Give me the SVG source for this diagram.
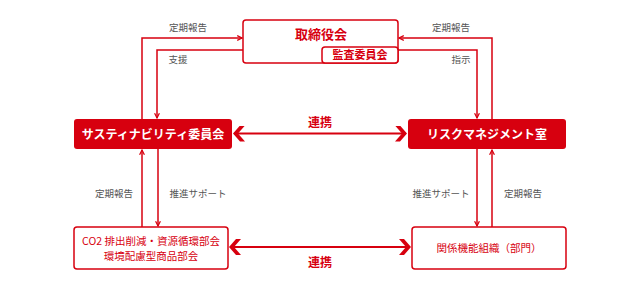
<svg xmlns="http://www.w3.org/2000/svg" width="640" height="291" viewBox="0 0 640 291">
<defs>
<style>
.ln{fill:none;stroke:#d7000f;stroke-width:1.5}
.big{fill:none;stroke:#d7000f;stroke-width:2.2}
.box{fill:#fff;stroke:#d7000f;stroke-width:1.5}
.fbox{fill:#d7000f;stroke:none}
.lab{font-family:"Noto Sans CJK JP","Noto Sans",sans-serif;font-size:9.5px;fill:#555}
.rt{font-family:"Noto Sans CJK JP","Noto Sans",sans-serif;fill:#d7000f;font-weight:bold}
.wt{font-family:"Noto Sans CJK JP","Noto Sans",sans-serif;fill:#fff;font-weight:bold;font-size:12px}
.rn{font-family:"Noto Sans CJK JP","Noto Sans",sans-serif;fill:#d7000f;font-size:10.5px}
</style>
<marker id="a" viewBox="0 0 10 10" refX="9" refY="5" markerWidth="6" markerHeight="6" markerUnits="userSpaceOnUse" orient="auto">
<path d="M1,1 L9,5 L1,9" fill="none" stroke="#d7000f" stroke-width="2"/>
</marker>
<marker id="b" viewBox="0 0 12 16" refX="11" refY="8" markerWidth="12" markerHeight="16" markerUnits="userSpaceOnUse" orient="auto-start-reverse">
<path d="M0,0 L5,0 L12,8 L5,16 L0,16 L7,8 Z" fill="#d7000f"/>
</marker>
</defs>
<g id="connectors">
<polyline class="ln" points="142,119 142,38 242,38" marker-end="url(#a)"/>
<polyline class="ln" points="243,50 157,50 157,118" marker-end="url(#a)"/>
<polyline class="ln" points="492,119 492,38 399,38" marker-end="url(#a)"/>
<polyline class="ln" points="398,50 477,50 477,118" marker-end="url(#a)"/>
<line class="ln" x1="142" y1="227" x2="142" y2="150" marker-end="url(#a)"/>
<line class="ln" x1="158" y1="149" x2="158" y2="226" marker-end="url(#a)"/>
<line class="ln" x1="477" y1="149" x2="477" y2="226" marker-end="url(#a)"/>
<line class="ln" x1="492" y1="227" x2="492" y2="150" marker-end="url(#a)"/>
<line class="big" x1="234" y1="133.5" x2="406" y2="133.5" marker-start="url(#b)" marker-end="url(#b)"/>
<line class="big" x1="230" y1="247" x2="410" y2="247" marker-start="url(#b)" marker-end="url(#b)"/>
<text class="lab" x="188" y="31" text-anchor="middle">定期報告</text>
<text class="lab" x="178" y="63" text-anchor="middle">支援</text>
<text class="lab" x="451" y="31" text-anchor="middle">定期報告</text>
<text class="lab" x="461" y="63" text-anchor="middle">指示</text>
<text class="rt" x="320" y="127" text-anchor="middle" font-size="12">連携</text>
<text class="rt" x="320" y="267" text-anchor="middle" font-size="12">連携</text>
<text class="lab" x="114" y="197" text-anchor="middle">定期報告</text>
<text class="lab" x="198" y="197" text-anchor="middle">推進サポート</text>
<text class="lab" x="441" y="197" text-anchor="middle">推進サポート</text>
<text class="lab" x="523" y="197" text-anchor="middle">定期報告</text>
</g>
<g id="board">
<rect class="box" x="243" y="20" width="155" height="43" rx="3"/>
<text class="rt" x="321" y="39" text-anchor="middle" font-size="13">取締役会</text>
</g>
<g id="audit">
<rect class="box" x="322" y="47" width="76" height="16" rx="3"/>
<text class="rt" x="360" y="59" text-anchor="middle" font-size="11">監査委員会</text>
</g>
<g id="sustainability">
<rect class="fbox" x="74" y="119" width="158" height="30" rx="3"/>
<text class="wt" x="153" y="138.5" text-anchor="middle">サスティナビリティ委員会</text>
</g>
<g id="risk">
<rect class="fbox" x="408" y="119" width="158" height="30" rx="3"/>
<text class="wt" x="487" y="138.5" text-anchor="middle">リスクマネジメント室</text>
</g>
<g id="subcommittee">
<rect class="box" x="74" y="227" width="154" height="42" rx="3"/>
<text class="rn" x="151" y="245" text-anchor="middle">CO2 排出削減・資源循環部会</text>
<text class="rn" x="151" y="260" text-anchor="middle">環境配慮型商品部会</text>
</g>
<g id="departments">
<rect class="box" x="412" y="227" width="154" height="42" rx="3"/>
<text class="rn" x="489" y="252" text-anchor="middle">関係機能組織（部門）</text>
</g>
</svg>
